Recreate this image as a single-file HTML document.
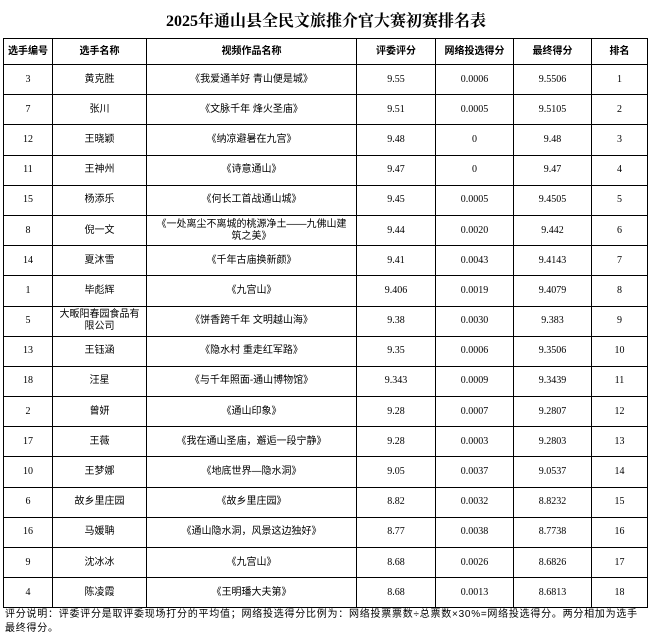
<!DOCTYPE html>
<html><head><meta charset="utf-8"><style>
body{margin:0;width:652px;height:639px;background:#fff;font-family:"Liberation Serif","Noto Serif CJK SC",serif;color:#000;position:relative;overflow:hidden}
.t{position:absolute;top:8px;left:0;width:652px;text-align:center;font-size:16px;font-weight:bold;font-family:"Liberation Serif","Noto Serif CJK SC",serif}
table{position:absolute;left:3px;top:38px;border-collapse:collapse;table-layout:fixed;width:644px}
td,th{border:1.3px solid #000;text-align:center;font-size:10px;padding:0 2px;line-height:12px;font-weight:normal}
th{height:25px;font-weight:bold;font-family:"Liberation Sans","Noto Sans CJK SC",sans-serif}
td{height:29.2px}
td.c{font-family:"Liberation Sans","Noto Sans CJK SC",sans-serif}
.f{position:absolute;left:5px;top:608px;width:645px;font-size:10px;letter-spacing:0.75px;line-height:14px;font-family:"Liberation Sans","Noto Sans CJK SC",sans-serif}
</style></head><body>
<div class="t">2025年通山县全民文旅推介官大赛初赛排名表</div>
<table>
<colgroup><col style="width:49px"><col style="width:94px"><col style="width:210px"><col style="width:79px"><col style="width:78px"><col style="width:78px"><col style="width:56px"></colgroup>
<tr><th>选手编号</th><th>选手名称</th><th>视频作品名称</th><th>评委评分</th><th>网络投选得分</th><th>最终得分</th><th>排名</th></tr>
<tr><td>3</td><td class="c">黄克胜</td><td class="c">《我爱通羊好 青山便是城》</td><td>9.55</td><td>0.0006</td><td>9.5506</td><td>1</td></tr>
<tr><td>7</td><td class="c">张川</td><td class="c">《文脉千年 烽火圣庙》</td><td>9.51</td><td>0.0005</td><td>9.5105</td><td>2</td></tr>
<tr><td>12</td><td class="c">王晓颖</td><td class="c">《纳凉避暑在九宫》</td><td>9.48</td><td>0</td><td>9.48</td><td>3</td></tr>
<tr><td>11</td><td class="c">王神州</td><td class="c">《诗意通山》</td><td>9.47</td><td>0</td><td>9.47</td><td>4</td></tr>
<tr><td>15</td><td class="c">杨添乐</td><td class="c">《何长工首战通山城》</td><td>9.45</td><td>0.0005</td><td>9.4505</td><td>5</td></tr>
<tr><td>8</td><td class="c">倪一文</td><td class="c">《一处离尘不离城的桃源净土——九佛山建<br>筑之美》</td><td>9.44</td><td>0.0020</td><td>9.442</td><td>6</td></tr>
<tr><td>14</td><td class="c">夏沐雪</td><td class="c">《千年古庙换新颜》</td><td>9.41</td><td>0.0043</td><td>9.4143</td><td>7</td></tr>
<tr><td>1</td><td class="c">毕彪辉</td><td class="c">《九宫山》</td><td>9.406</td><td>0.0019</td><td>9.4079</td><td>8</td></tr>
<tr><td>5</td><td class="c">大畈阳春园食品有<br>限公司</td><td class="c">《饼香跨千年 文明越山海》</td><td>9.38</td><td>0.0030</td><td>9.383</td><td>9</td></tr>
<tr><td>13</td><td class="c">王钰涵</td><td class="c">《隐水村 重走红军路》</td><td>9.35</td><td>0.0006</td><td>9.3506</td><td>10</td></tr>
<tr><td>18</td><td class="c">汪星</td><td class="c">《与千年照面-通山博物馆》</td><td>9.343</td><td>0.0009</td><td>9.3439</td><td>11</td></tr>
<tr><td>2</td><td class="c">曾妍</td><td class="c">《通山印象》</td><td>9.28</td><td>0.0007</td><td>9.2807</td><td>12</td></tr>
<tr><td>17</td><td class="c">王薇</td><td class="c">《我在通山圣庙，邂逅一段宁静》</td><td>9.28</td><td>0.0003</td><td>9.2803</td><td>13</td></tr>
<tr><td>10</td><td class="c">王梦娜</td><td class="c">《地底世界—隐水洞》</td><td>9.05</td><td>0.0037</td><td>9.0537</td><td>14</td></tr>
<tr><td>6</td><td class="c">故乡里庄园</td><td class="c">《故乡里庄园》</td><td>8.82</td><td>0.0032</td><td>8.8232</td><td>15</td></tr>
<tr><td>16</td><td class="c">马媛聃</td><td class="c">《通山隐水洞，风景这边独好》</td><td>8.77</td><td>0.0038</td><td>8.7738</td><td>16</td></tr>
<tr><td>9</td><td class="c">沈冰冰</td><td class="c">《九宫山》</td><td>8.68</td><td>0.0026</td><td>8.6826</td><td>17</td></tr>
<tr><td>4</td><td class="c">陈凌霞</td><td class="c">《王明璠大夫第》</td><td>8.68</td><td>0.0013</td><td>8.6813</td><td>18</td></tr>
</table>
<div class="f">评分说明：评委评分是取评委现场打分的平均值；网络投选得分比例为：网络投票票数÷总票数×30%=网络投选得分。两分相加为选手<br>最终得分。</div>
</body></html>
